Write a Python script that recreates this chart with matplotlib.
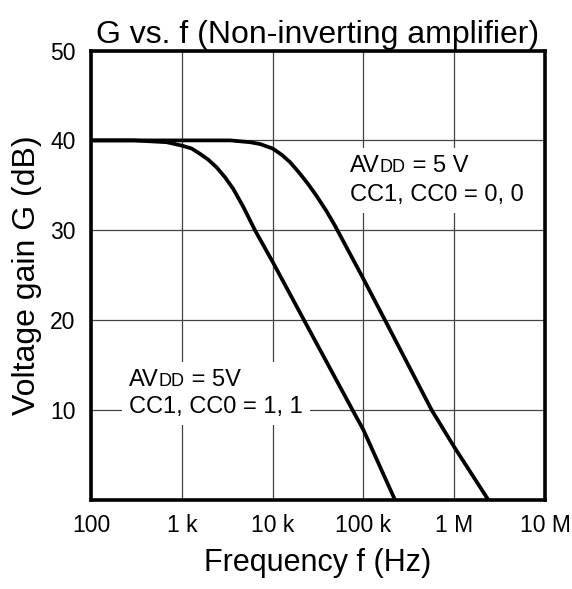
import numpy as np
import matplotlib
matplotlib.use("Agg")
import matplotlib.pyplot as plt
import matplotlib.transforms as mtransforms
from matplotlib.patches import Rectangle
from matplotlib.ticker import FixedLocator, FixedFormatter, NullLocator

plt.rcParams['font.family'] = ['Liberation Sans', 'DejaVu Sans']

# curve: CC1, CC0 = 1, 1
freq_11 = [100, 300, 447, 681, 1020, 1280, 1590, 1960, 2420, 2990, 3690, 4760, 6400,
           10000, 22200, 76000, 100000, 223000]
gain_11 = [40.0, 40.0, 39.9, 39.8, 39.4, 39.1, 38.5, 37.85, 37.0, 35.9, 34.6, 32.6, 30.0,
           26.5, 20.0, 10.0, 7.8, 0.0]

# curve: CC1, CC0 = 0, 0
freq_00 = [100, 1000, 3400, 5640, 7260, 10000, 12600, 15500, 20000, 24800, 30600, 39400,
           48700, 100000, 173000, 565000, 1000000, 2380000]
gain_00 = [40.0, 40.0, 40.0, 39.8, 39.6, 39.1, 38.4, 37.6, 36.3, 35.1, 33.8, 32.1,
           30.5, 24.6, 20.0, 10.0, 5.9, 0.0]

xticks = [1e2, 1e3, 1e4, 1e5, 1e6, 1e7]
xtick_labels = ['100', '1 k', '10 k', '100 k', '1 M', '10 M']
yticks = [10, 20, 30, 40, 50]

fig = plt.figure(figsize=(5.72, 5.89), dpi=100)
ax = fig.add_axes([91 / 572, 89 / 589, 454 / 572, 449.5 / 589])

for f, g in [(freq_11, gain_11), (freq_00, gain_00)]:
    ax.plot(f, g, color='black', lw=2.7, solid_joinstyle='round',
            solid_capstyle='butt', zorder=4)

ax.set_xscale('log')
ax.set_xlim(1e2, 1e7)
ax.set_ylim(0, 50)
ax.xaxis.set_major_locator(FixedLocator(xticks))
ax.xaxis.set_major_formatter(FixedFormatter(xtick_labels))
ax.xaxis.set_minor_locator(NullLocator())
ax.set_yticks(yticks)
ax.tick_params(length=0, labelsize=16.5, colors='black')
ax.tick_params(axis='x', pad=10)
ax.tick_params(axis='y', pad=11)
ax.grid(True, color='#444444', lw=0.9, zorder=1)
ax.set_axisbelow(True)
for sp in ax.spines.values():
    sp.set_linewidth(2.6)
    sp.set_zorder(5)

ax.set_title('G vs. f (Non-inverting amplifier)', fontsize=23, pad=5)
ax.set_xlabel('Frequency f (Hz)', fontsize=22, labelpad=8)
ax.set_ylabel('Voltage gain G (dB)', fontsize=23, labelpad=6)

renderer = fig.canvas.get_renderer()


def label(x, y1, y2, supply, cc):
    texts = [ax.text(x, y2, cc, transform=ax.transAxes, fontsize=17,
                     va='baseline', zorder=3)]
    # first line: "DD" set smaller on the same baseline
    trans = mtransforms.blended_transform_factory(mtransforms.IdentityTransform(), ax.transAxes)
    xpix = ax.transAxes.transform((x, 0))[0]
    for s, size in [('AV', 17), ('DD', 13), (' = ' + supply, 17)]:
        t = ax.text(xpix, y1, s, transform=trans, fontsize=size, va='baseline', zorder=3)
        texts.append(t)
        xpix = t.get_window_extent(renderer).x1
    # white patch behind the label so the grid does not run through it
    bb = mtransforms.Bbox.union([t.get_window_extent(renderer) for t in texts])
    bb = bb.expanded(1, 1).padded(7)
    (x0, y0), (x1, y1b) = ax.transAxes.inverted().transform(bb.get_points())
    ax.add_patch(Rectangle((x0, y0), x1 - x0, y1b - y0, transform=ax.transAxes,
                           fc='white', ec='none', zorder=2))


label(0.084, 0.254, 0.194, '5V', 'CC1, CC0 = 1, 1')
label(0.570, 0.729, 0.665, '5 V', 'CC1, CC0 = 0, 0')

fig.savefig('out.png', dpi=100)
